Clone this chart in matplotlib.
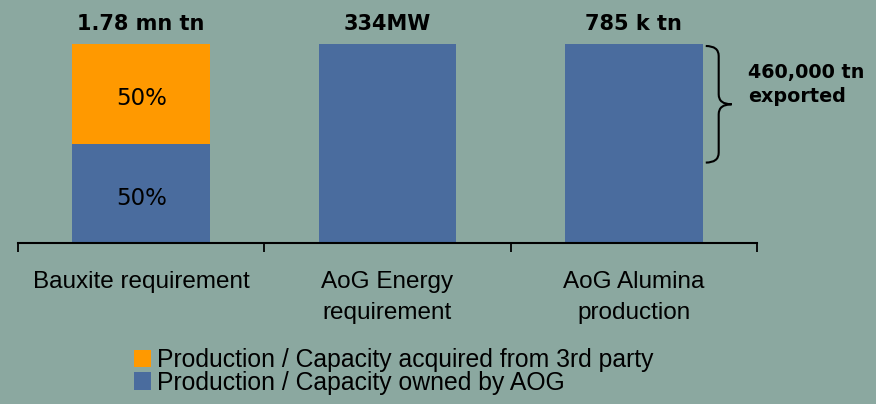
import matplotlib.pyplot as plt
from matplotlib.patches import Patch, PathPatch
from matplotlib.path import Path

# ---------------- DATA ---------------- #
categories = ["Bauxite requirement", "AoG Energy\nrequirement", "AoG Alumina\nproduction"]
owned_share = [50, 100, 100]       # % owned by AOG
third_party_share = [50, 0, 0]     # % acquired from 3rd party
totals = ["1.78 mn tn", "334MW", "785 k tn"]
share_labels = ["50%", "50%"]       # only bauxite bar is split

alumina_total = 785    # k tn
alumina_exported = 460  # k tn
legend_labels = ["Production / Capacity acquired from 3rd party",
                 "Production / Capacity owned by AOG"]

# ---------------- STYLE ---------------- #
bg = "#8BA8A0"
blue = "#4A6C9E"
orange = "#FF9900"
label_font = "Liberation Sans"

fig = plt.figure(figsize=(8.76, 4.04), dpi=100, facecolor=bg)
ax = fig.add_axes([18 / 876, 1 - 243 / 404, 739 / 876, 199 / 404])
ax.set_facecolor(bg)

x = list(range(len(categories)))
width = 0.56

ax.bar(x, owned_share, width, color=blue, zorder=2)
ax.bar(x, third_party_share, width, bottom=owned_share, color=orange, zorder=2)

ax.set_xlim(-0.5, 2.5)
ax.set_ylim(0, 100)

# total labels above bars
for i, t in enumerate(totals):
    top = owned_share[i] + third_party_share[i]
    ax.annotate(t, xy=(i, top), xytext=(0, 10.4), textcoords="offset points",
                ha="center", va="baseline", fontsize=15, fontweight="bold",
                family="DejaVu Sans", annotation_clip=False)

# split labels inside bauxite bar
ax.annotate(share_labels[0], xy=(0, owned_share[0] + third_party_share[0] / 2),
            xytext=(0, -8.3), textcoords="offset points", ha="center",
            va="baseline", fontsize=16.5, family="DejaVu Sans")
ax.annotate(share_labels[1], xy=(0, owned_share[0] / 2),
            xytext=(0, -8.6), textcoords="offset points", ha="center",
            va="baseline", fontsize=16.5, family="DejaVu Sans")

# ---------------- BRACE ---------------- #
b_top = 99
b_bot = b_top - alumina_exported / alumina_total * 100
b_mid = (b_top + b_bot) / 2
x0 = 2 + width / 2 + 0.012
x1 = x0 + 0.105
xm = (x0 + x1) / 2
r = 5
verts = [(x0, b_top), (xm, b_top), (xm, b_top - r),
         (xm, b_mid + r), (xm, b_mid), (x1, b_mid),
         (xm, b_mid), (xm, b_mid - r),
         (xm, b_bot + r), (xm, b_bot), (x0, b_bot)]
codes = [Path.MOVETO, Path.CURVE3, Path.CURVE3,
         Path.LINETO, Path.CURVE3, Path.CURVE3,
         Path.CURVE3, Path.CURVE3,
         Path.LINETO, Path.CURVE3, Path.CURVE3]
ax.add_patch(PathPatch(Path(verts, codes), fill=False, lw=1.5,
                       edgecolor="black", clip_on=False))
ax.annotate(f"{alumina_exported * 1000:,} tn\nexported",
            xy=(x1, b_mid), xytext=(12, 1.8), textcoords="offset points",
            ha="left", va="baseline", fontsize=13.8, fontweight="bold",
            family="DejaVu Sans", linespacing=1.35, annotation_clip=False)

# ---------------- AXES ---------------- #
for s in ["top", "right", "left"]:
    ax.spines[s].set_visible(False)
ax.spines["bottom"].set_linewidth(1.5)
ax.set_yticks([])
ax.set_xticks(x, categories, fontsize=17.5, family=label_font)
ax.set_xticks([-0.5, 0.5, 1.5, 2.5], minor=True)
ax.tick_params(axis="x", which="major", length=0, pad=20)
ax.tick_params(axis="x", which="minor", length=6.5, width=1.3, direction="out")
for lbl in ax.get_xticklabels():
    lbl.set_linespacing(1.55)

# ---------------- LEGEND ---------------- #
handles = [Patch(facecolor=orange), Patch(facecolor=blue)]
fig.legend(handles, legend_labels, loc="upper left",
           bbox_to_anchor=(134 / 876, 1 - 348 / 404), frameon=False,
           prop={"family": label_font, "size": 17.8},
           handlelength=0.7, handleheight=0.7, handletextpad=0.24,
           labelspacing=-0.05, borderpad=0, borderaxespad=0)

fig.savefig("out.png", dpi=100, facecolor=bg)
